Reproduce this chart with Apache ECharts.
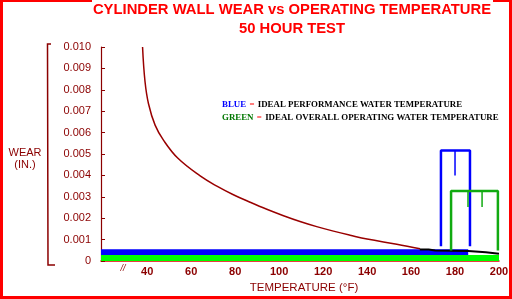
<!DOCTYPE html>
<html>
<head>
<meta charset="utf-8">
<script src="https://cdn.jsdelivr.net/npm/echarts@6/dist/echarts.min.js"></script>
<style>
  html, body { margin: 0; padding: 0; background: #fff; }
  #chart { width: 512px; height: 299px; }
</style>
</head>
<body>
<div id="chart"></div>
<script>
// wear curve (deg F, inches)
const curveTemp = [37.9, 39.0, 40.6, 43.6, 47.4, 54.0, 64.1, 71.7, 79.2, 86.8, 94.4, 102.0, 109.5, 117.1, 124.7, 132.3, 140.0, 153.5, 164.1];
const curveWear = [0.0100, 0.00840, 0.00735, 0.00635, 0.00565, 0.00480, 0.00398, 0.00350, 0.00310, 0.00275, 0.00242, 0.00212, 0.00185, 0.00161, 0.00140, 0.00121, 0.00103, 0.00079, 0.00058];

// black step line sitting on the bands
const stepTemp = [164, 168, 168, 171, 171, 186, 186, 194, 194, 200];
const stepWear = [0.00054, 0.00054, 0.00050, 0.00050, 0.00047, 0.00047, 0.00041, 0.00041, 0.00034, 0.00034];

// bands: [fromTemp, toTemp, lowWear, highWear]
const blueBand = [19, 186, 0.00028, 0.00055];
const greenBand = [19, 200, 0, 0.00028];

// brackets: outline + inner ticks
const blueBracketTemp = [173.6, 173.6, 186.8, 186.8];
const blueBracketWear = [0.00069, 0.00516, 0.00516, 0.00069];
const blueTickTemp = [180, 180];
const blueTickWear = [0.00516, 0.0040];
const greenBracketTemp = [178.2, 178.2, 199.5, 199.5];
const greenBracketWear = [0.00049, 0.00327, 0.00327, 0.00050];
const greenTickTemps = [185.9, 192.3];
const greenTickWear = [0.00327, 0.00253];

const xLabels = [40, 60, 80, 100, 120, 140, 160, 180, 200];

const maroon = "#8b0000";
const zip = (xs, ys) => xs.map((x, i) => [x, ys[i]]);

const chart = echarts.init(document.getElementById("chart"), null, { renderer: "canvas" });

const bandSeries = (band, color) => ({
  type: "custom",
  silent: true,
  z: 2,
  renderItem: (params, api) => {
    const p0 = api.coord([api.value(0), api.value(3)]);
    const p1 = api.coord([api.value(1), api.value(2)]);
    return {
      type: "rect",
      shape: { x: p0[0], y: p0[1], width: p1[0] - p0[0], height: p1[1] - p0[1] },
      style: { fill: color },
    };
  },
  data: [band],
});

const lineSeries = (data, color, width, z, smooth) => ({
  type: "line",
  data,
  symbol: "none",
  silent: true,
  smooth: smooth || false,
  z: z || 3,
  lineStyle: { color, width },
});

chart.setOption({
  animation: false,
  textStyle: { fontFamily: "Liberation Sans, Arial, sans-serif" },
  grid: { left: 101, right: 13, top: 47, bottom: 35 },
  xAxis: {
    type: "value",
    min: 19,
    max: 200,
    name: "TEMPERATURE (°F)",
    nameLocation: "middle",
    nameGap: 19,
    nameTextStyle: { color: maroon, fontSize: 11.5, padding: [0, 0, 0, 8] },
    axisLine: { lineStyle: { color: "#e00000", width: 1.5 } },
    axisTick: { show: false },
    splitLine: { show: false },
    axisLabel: {
      customValues: xLabels,
      color: maroon,
      fontSize: 11,
      fontWeight: "bold",
      margin: 5,
    },
  },
  yAxis: {
    type: "value",
    min: 0,
    max: 0.010,
    interval: 0.001,
    axisLine: { show: true, lineStyle: { color: maroon, width: 1.2 } },
    axisTick: { show: true, inside: true, length: 4, lineStyle: { color: maroon } },
    splitLine: { show: false },
    axisLabel: {
      color: maroon,
      fontSize: 11,
      margin: 10,
      formatter: (v) => (v === 0 ? "0" : v.toFixed(3)),
    },
  },
  series: [
    bandSeries(greenBand, "#00ff00"),
    bandSeries(blueBand, "#0000ff"),
    lineSeries(zip(curveTemp, curveWear), "#990000", 1.5, 3, 0.4),
    lineSeries(zip(stepTemp, stepWear), "#000", 2, 4),
    lineSeries(zip(blueBracketTemp, blueBracketWear), "#0000ff", 2.5, 5),
    lineSeries(zip(blueTickTemp, blueTickWear), "#0000ff", 1.5, 5),
    lineSeries(zip(greenBracketTemp, greenBracketWear), "#11aa11", 2.5, 5),
    ...greenTickTemps.map((t) => lineSeries(zip([t, t], greenTickWear), "#11aa11", 1.5, 5)),
  ],
});

// decorations: frame, title, legend note, y label bracket, axis break
const brk = chart.convertToPixel({ xAxisIndex: 0, yAxisIndex: 0 }, [29, 0]);
const titleFont = "bold 14.8px 'Liberation Sans', Arial, sans-serif";
const noteFont = "bold 8.85px 'Liberation Serif', serif";
chart.setOption({
  graphic: [
    { type: "rect", shape: { x: 0, y: 0, width: 3, height: 299 }, style: { fill: "#f00" } },
    { type: "rect", shape: { x: 509, y: 0, width: 3, height: 299 }, style: { fill: "#f00" } },
    { type: "rect", shape: { x: 0, y: 296, width: 512, height: 3 }, style: { fill: "#f00" } },
    { type: "rect", shape: { x: 0, y: 0, width: 92, height: 2 }, style: { fill: "#f00" } },
    { type: "rect", shape: { x: 493, y: 0, width: 19, height: 2 }, style: { fill: "#f00" } },
    {
      type: "text", x: 292, y: 10,
      style: {
        text: "CYLINDER WALL WEAR vs OPERATING TEMPERATURE",
        fill: "#f00", font: titleFont, align: "center", verticalAlign: "middle",
      },
    },
    {
      type: "text", x: 292, y: 29,
      style: {
        text: "50 HOUR TEST",
        fill: "#f00", font: titleFont, align: "center", verticalAlign: "middle",
      },
    },
    {
      type: "text", x: 222, y: 105,
      style: {
        text: "{b|BLUE} {r|=} {t|IDEAL PERFORMANCE WATER TEMPERATURE}",
        verticalAlign: "middle",
        rich: {
          b: { fill: "#0000ff", font: noteFont },
          r: { fill: "#f00", font: noteFont },
          t: { fill: "#000", font: noteFont },
        },
      },
    },
    {
      type: "text", x: 222, y: 118,
      style: {
        text: "{g|GREEN} {r|=} {t|IDEAL OVERALL OPERATING WATER TEMPERATURE}",
        verticalAlign: "middle",
        rich: {
          g: { fill: "#007700", font: noteFont },
          r: { fill: "#f00", font: noteFont },
          t: { fill: "#000", font: noteFont },
        },
      },
    },
    {
      type: "text", x: 25, y: 159,
      style: {
        text: "WEAR\n(IN.)",
        fill: maroon, font: "11px 'Liberation Sans', Arial, sans-serif",
        align: "center", verticalAlign: "middle", lineHeight: 12,
      },
    },
    {
      type: "polyline",
      shape: { points: [[51, 44], [47.5, 44], [48, 265], [55, 265]] },
      style: { stroke: maroon, lineWidth: 1.5, fill: null },
    },
    {
      type: "text", x: brk[0], y: brk[1] + 3,
      style: {
        text: "//", fill: maroon, font: "italic 9px 'Liberation Sans', sans-serif",
        align: "center", verticalAlign: "top",
      },
    },
  ],
});
</script>
</body>
</html>
